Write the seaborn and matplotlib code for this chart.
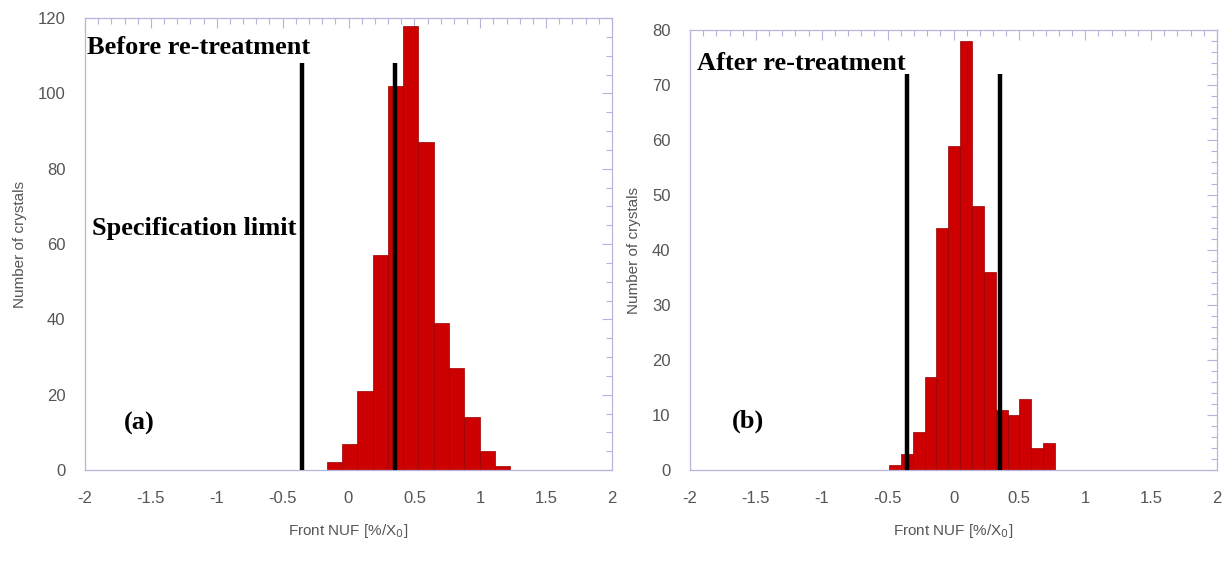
import numpy as np
import matplotlib
matplotlib.use("Agg")
import matplotlib.pyplot as plt
from matplotlib.ticker import MultipleLocator
import seaborn as sns

# ---- data ----
before_edges_start = -0.165
before_bin_width = 0.116
before_counts = [2, 7, 21, 57, 102, 118, 87, 39, 27, 14, 5, 1]

after_edges_start = -0.49
after_bin_width = 0.09
after_counts = [1, 3, 7, 17, 44, 59, 78, 48, 36, 11, 10, 13, 4, 5]

spec_limits = [-0.35, 0.35]
spec_height_before = 108
spec_height_after = 72

x_ticks = [-2, -1.5, -1, -0.5, 0, 0.5, 1, 1.5, 2]
x_tick_labels = ["-2", "-1.5", "-1", "-0.5", "0", "0.5", "1", "1.5", "2"]
y_ticks_before = [0, 20, 40, 60, 80, 100, 120]
y_ticks_after = [0, 10, 20, 30, 40, 50, 60, 70, 80]

sns.set_style("white")
plt.rcParams['font.family'] = ['Liberation Sans', 'DejaVu Sans']

BAR = "#cc0000"
EDGE = "#9a0000"
FRAME = "#b4b4dc"
TXT = "#555555"

fig = plt.figure(figsize=(12.26, 5.65), dpi=100)
ax1 = fig.add_axes([85/1226, 1-470/565, (612-85)/1226, (470-18)/565])
ax2 = fig.add_axes([690/1226, 1-470/565, (1217-690)/1226, (470-30)/565])


def draw(ax, start, width, counts, spec_h, ymax, yticks, yminor):
    n = len(counts)
    edges = [start + width * i for i in range(n + 1)]
    centers = [start + width * (i + 0.5) for i in range(n)]
    sns.histplot(x=centers, weights=counts, bins=edges, ax=ax,
                 color=BAR, edgecolor=EDGE, linewidth=0.5, alpha=1.0)
    ax.vlines(spec_limits, 0, spec_h, color="black", lw=3.2, zorder=5)
    ax.set_xlim(-2, 2)
    ax.set_ylim(0, ymax)
    ax.set_xticks(x_ticks)
    ax.set_xticklabels(x_tick_labels)
    ax.set_yticks(yticks)
    ax.xaxis.set_minor_locator(MultipleLocator(0.1))
    ax.yaxis.set_minor_locator(MultipleLocator(yminor))
    ax.tick_params(which="both", direction="in", top=True, right=True,
                   color=FRAME, labelcolor=TXT, labelsize=12)
    ax.tick_params(which="major", length=7, width=0.8)
    ax.tick_params(which="minor", length=4, width=0.8)
    ax.tick_params(axis="x", pad=15)
    ax.tick_params(axis="y", pad=14)
    for s in ax.spines.values():
        s.set_color(FRAME)
        s.set_linewidth(0.9)
    ax.set_xlabel("Front NUF [%/X$_0$]", color=TXT, fontsize=11, labelpad=12)
    ax.set_ylabel("Number of crystals", color=TXT, fontsize=11, labelpad=8)


draw(ax1, before_edges_start, before_bin_width, before_counts,
     spec_height_before, 120, y_ticks_before, 5)
draw(ax2, after_edges_start, after_bin_width, after_counts,
     spec_height_after, 80, y_ticks_after, 2)

serif = dict(family="Liberation Serif", fontweight="bold", fontsize=19, color="black")
fig.text(87/1226, 1-47/565, "Before re-treatment", va="center", ha="left", **serif)
fig.text(92/1226, 1-228/565, "Specification limit", va="center", ha="left", **serif)
fig.text(124/1226, 1-423/565, "(a)", va="center", ha="left", **serif)
fig.text(697/1226, 1-63/565, "After re-treatment", va="center", ha="left", **serif)
fig.text(732/1226, 1-421/565, "(b)", va="center", ha="left", **serif)

fig.savefig("out.png", dpi=100, facecolor="white")
